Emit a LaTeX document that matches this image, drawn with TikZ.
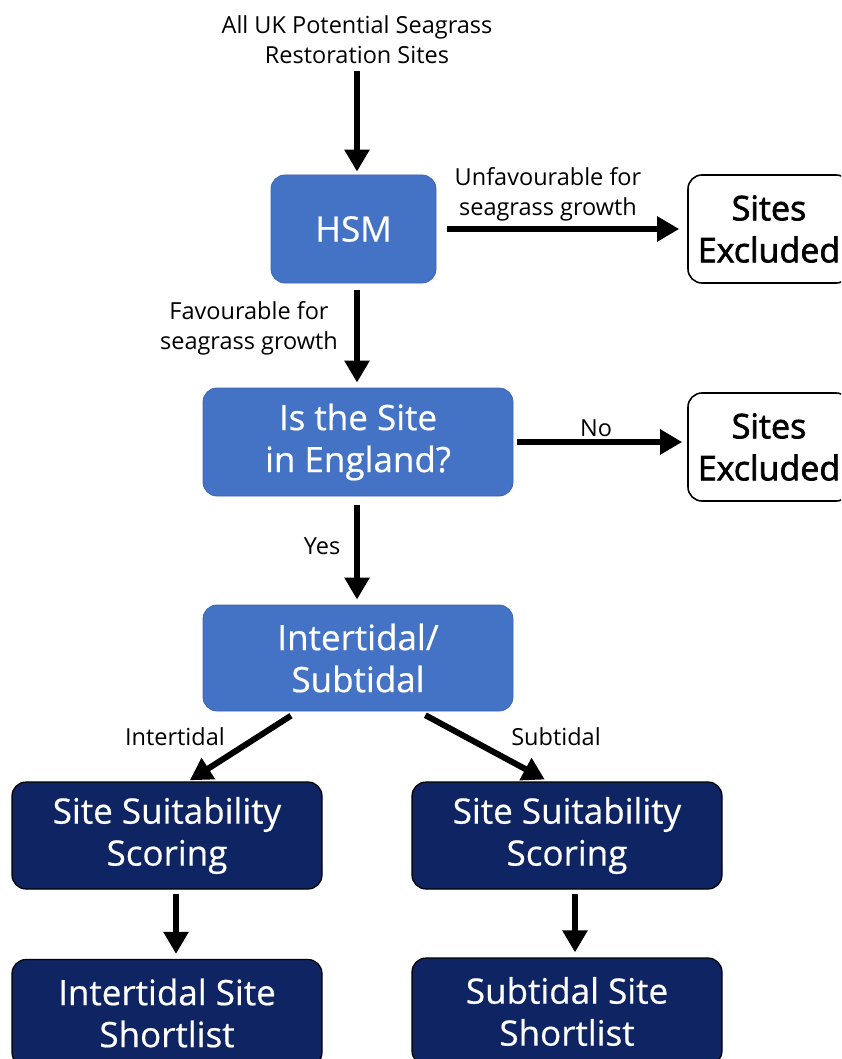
\documentclass[tikz,border=0pt]{standalone}
\usepackage{fontspec}
\setmainfont{Open Sans}
\usetikzlibrary{arrows.meta,calc}
\definecolor{stepblue}{HTML}{4472C4}
\definecolor{stepedge}{HTML}{3D66B0}
\definecolor{navy}{HTML}{0E2463}
\begin{document}
\begin{tikzpicture}[x=1pt,y=-1pt,
  flowbox/.style={rectangle, rounded corners=14pt, align=center, inner sep=0pt,
    font=\fontsize{35}{42}\selectfont\addfontfeatures{FakeBold=0.5}},
  bluebox/.style={flowbox, fill=stepblue, draw=stepedge, line width=0.8pt, text=white},
  navybox/.style={flowbox, fill=navy, draw=black, line width=1.2pt, text=white},
  exbox/.style={flowbox, fill=white, draw=black, line width=1.6pt, text=black,
    font=\fontsize{34}{42}\selectfont\addfontfeatures{FakeBold=2}},
  lbl/.style={align=center, inner sep=0pt, font=\fontsize{23.5}{30}\selectfont},
  arr/.style={-{Triangle[width=24pt,length=22pt]}, line width=6pt}]
\useasboundingbox (0,0) rectangle (841,1059);
\clip (0,0) rectangle (841,1059);

% boxes
\node[bluebox, minimum width=165pt, minimum height=108pt] (hsm) at (353.5,229) {HSM};
\node[bluebox, minimum width=310pt, minimum height=108pt] (eng) at (358,442) {Is the Site\\in England?};
\node[bluebox, minimum width=310pt, minimum height=106pt] (tide) at (358,658) {Intertidal/\\Subtidal};
\node[navybox, minimum width=310pt, minimum height=107pt] (scoreL) at (167,835.5) {Site Suitability\\Scoring};
\node[navybox, minimum width=310pt, minimum height=107pt] (scoreR) at (567,835.5) {Site Suitability\\Scoring};
\node[navybox, minimum width=310pt, minimum height=107pt] (listL) at (167,1013) {Intertidal Site\\Shortlist};
\node[navybox, minimum width=310pt, minimum height=107pt] (listR) at (567,1011.5) {Subtidal Site\\Shortlist};
\node[exbox, minimum width=162pt, minimum height=108pt] (ex1) at (769,229) {Sites\\Excluded};
\node[exbox, minimum width=162pt, minimum height=108pt] (ex2) at (769,447) {Sites\\Excluded};

% labels
\node[lbl] (start) at (357,40) {All UK Potential Seagrass\\Restoration Sites};
\node[lbl] (unfav) at (548,194) {Unfavourable for\\seagrass growth};
\node[lbl] (fav) at (249,328) {Favourable for\\seagrass growth};
\node[lbl] (no) at (596,428) {No};
\node[lbl] (yes) at (322,546) {Yes};
\node[lbl] (inter) at (175,737) {Intertidal};
\node[lbl] (sub) at (556,737) {Subtidal};

% connectors
\draw[arr, shorten <=7pt, shorten >=3pt] (start.south -| 357,0) -- (hsm.north -| 357,0);
\draw[arr, shorten <=11pt, shorten >=8pt] (hsm.east) -- (ex1.west);
\draw[arr, shorten <=7pt, shorten >=5pt] (hsm.south -| 357,0) -- (eng.north -| 357,0);
\draw[arr, shorten <=4pt, shorten >=5pt] (eng.east) -- (eng.east -| ex2.west);
\draw[arr, shorten <=9pt, shorten >=5pt] (eng.south -| 357,0) -- (tide.north -| 357,0);
\draw[arr, shorten <=8pt, shorten >=2pt]
  ($(tide.south west)!0.306!(tide.south east)$) -- ($(scoreL.north west)!0.568!(scoreL.north east)$);
\draw[arr, shorten <=8pt, shorten >=4pt]
  ($(tide.south west)!0.694!(tide.south east)$) -- ($(scoreR.north west)!0.44!(scoreR.north east)$);
\draw[arr, shorten <=4pt, shorten >=5pt] (scoreL.south -| 176,0) -- (listL.north -| 176,0);
\draw[arr, shorten <=4pt, shorten >=5pt] (scoreR.south -| 575,0) -- (listR.north -| 575,0);
\end{tikzpicture}
\end{document}
